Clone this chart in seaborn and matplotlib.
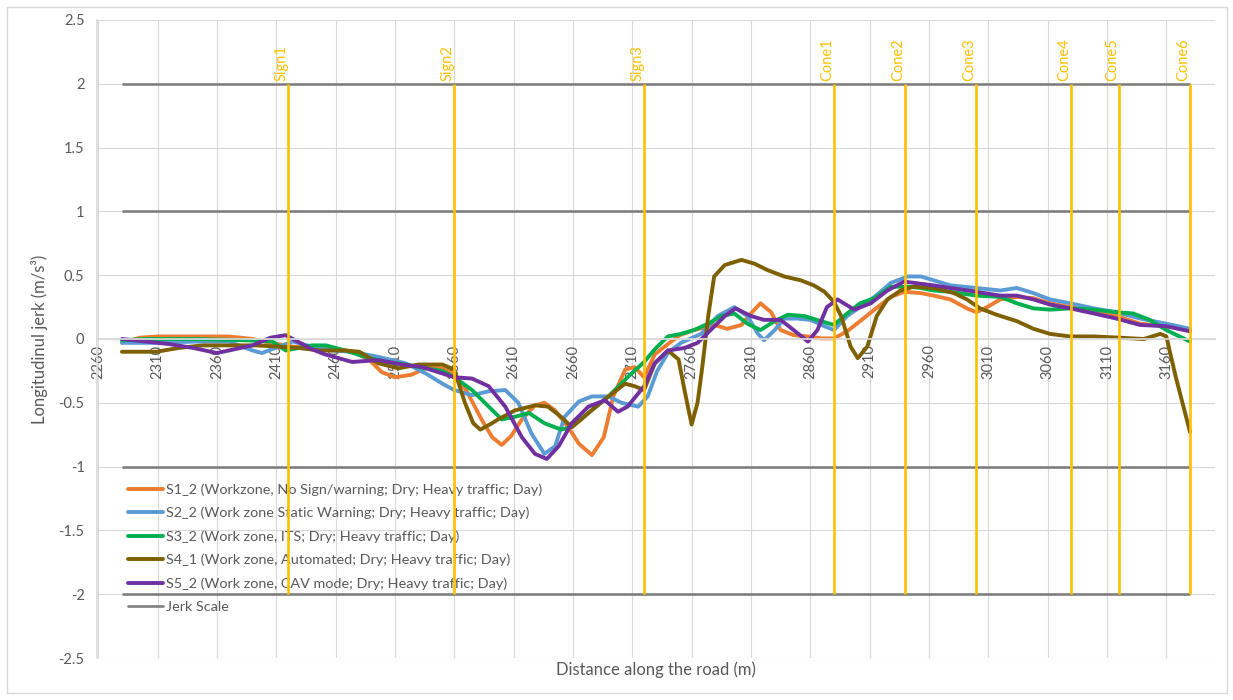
import numpy as np
import pandas as pd
import matplotlib
matplotlib.use("Agg")
import matplotlib.pyplot as plt
import seaborn as sns
from matplotlib.lines import Line2D
from matplotlib.patches import Rectangle

# ---------------- data ----------------
series_names = [
    "S1_2 (Workzone, No Sign/warning; Dry; Heavy traffic; Day)",
    "S2_2 (Work zone Static Warning; Dry; Heavy traffic; Day)",
    "S3_2 (Work zone, ITS; Dry; Heavy traffic; Day)",
    "S4_1 (Work zone, Automated; Dry; Heavy traffic; Day)",
    "S5_2 (Work zone, CAV mode; Dry; Heavy traffic; Day)",
]
series_colors = ["#ED7D31", "#5B9BD5", "#00B050", "#7F6000", "#7030A0"]

s1_x = [2280, 2295, 2310, 2340, 2370, 2390, 2405, 2424, 2440, 2463, 2474, 2488, 2499, 2510, 2524, 2538,
        2550, 2560, 2570, 2583, 2592, 2600, 2608, 2617, 2628, 2636, 2645, 2656, 2665, 2676, 2686, 2694,
        2704, 2712, 2720, 2729, 2740, 2750, 2762, 2779, 2790, 2802, 2810, 2818, 2827, 2835, 2846, 2858,
        2869, 2880, 2891, 2902, 2914, 2928, 2939, 2953, 2964, 2978, 2992, 3000, 3009, 3020, 3034, 3048,
        3062, 3079, 3099, 3118, 3138, 3160, 3180]
s1_y = [-0.03, 0.01, 0.02, 0.02, 0.02, 0.0, -0.03, -0.06, -0.07, -0.08, -0.1, -0.16, -0.26, -0.3, -0.28, -0.22,
        -0.23, -0.28, -0.4, -0.63, -0.77, -0.83, -0.76, -0.63, -0.52, -0.5, -0.56, -0.69, -0.82, -0.91, -0.77, -0.45,
        -0.24, -0.22, -0.3, -0.12, -0.04, 0.03, 0.07, 0.11, 0.08, 0.11, 0.2, 0.28, 0.21, 0.07, 0.03, 0.02,
        0.005, 0.005, 0.06, 0.14, 0.23, 0.33, 0.37, 0.36, 0.34, 0.31, 0.24, 0.21, 0.25, 0.31, 0.33, 0.32,
        0.28, 0.25, 0.21, 0.18, 0.12, 0.1, 0.07]

s2_x = [2280, 2306, 2342, 2370, 2390, 2398, 2412, 2424, 2440, 2457, 2474, 2496, 2519, 2536, 2550, 2560,
        2575, 2589, 2603, 2614, 2625, 2636, 2645, 2653, 2665, 2676, 2690, 2701, 2715, 2723, 2731, 2740,
        2751, 2768, 2782, 2796, 2807, 2816, 2821, 2830, 2838, 2849, 2860, 2872, 2880, 2891, 2902, 2914,
        2928, 2942, 2953, 2964, 2978, 3000, 3020, 3034, 3048, 3062, 3079, 3099, 3118, 3138, 3160, 3180]
s2_y = [-0.03, -0.03, -0.02, -0.02, -0.09, -0.11, -0.06, -0.02, -0.06, -0.09, -0.1, -0.14, -0.19, -0.27, -0.35, -0.4,
        -0.44, -0.41, -0.4, -0.5, -0.74, -0.9, -0.84, -0.61, -0.49, -0.45, -0.45, -0.5, -0.53, -0.45, -0.25, -0.11,
        -0.03, 0.04, 0.18, 0.25, 0.18, 0.04, -0.01, 0.07, 0.16, 0.16, 0.15, 0.1, 0.07, 0.18, 0.25, 0.33,
        0.44, 0.49, 0.49, 0.46, 0.42, 0.4, 0.38, 0.4, 0.36, 0.31, 0.28, 0.24, 0.21, 0.16, 0.12, 0.08]

s3_x = [2280, 2300, 2342, 2384, 2407, 2418, 2429, 2440, 2452, 2468, 2485, 2502, 2519, 2536, 2550, 2560,
        2575, 2589, 2600, 2611, 2623, 2636, 2650, 2659, 2673, 2690, 2706, 2720, 2729, 2740, 2751, 2762,
        2774, 2785, 2796, 2807, 2818, 2830, 2841, 2855, 2869, 2880, 2891, 2902, 2914, 2928, 2942, 2953,
        2964, 2978, 3000, 3020, 3034, 3048, 3062, 3079, 3099, 3118, 3132, 3146, 3160, 3180]
s3_y = [-0.01, 0.0, 0.0, -0.01, -0.02, -0.09, -0.07, -0.05, -0.05, -0.09, -0.14, -0.18, -0.2, -0.23, -0.25, -0.3,
        -0.4, -0.53, -0.63, -0.61, -0.58, -0.66, -0.71, -0.69, -0.58, -0.45, -0.3, -0.18, -0.08, 0.02, 0.04, 0.07,
        0.12, 0.18, 0.2, 0.12, 0.07, 0.14, 0.19, 0.18, 0.14, 0.11, 0.2, 0.28, 0.32, 0.41, 0.41, 0.4,
        0.38, 0.37, 0.34, 0.33, 0.28, 0.24, 0.23, 0.24, 0.23, 0.21, 0.2, 0.15, 0.07, -0.02]

s4_x = [2280, 2309, 2328, 2348, 2370, 2393, 2412, 2429, 2446, 2468, 2480, 2496, 2513, 2530, 2550, 2560,
        2569, 2576, 2582, 2590, 2597, 2611, 2628, 2639, 2650, 2659, 2667, 2673, 2690, 2704, 2712, 2720,
        2729, 2740, 2749, 2754, 2760, 2765, 2769, 2774, 2779, 2788, 2802, 2813, 2824, 2838, 2852, 2863,
        2872, 2880, 2886, 2894, 2900, 2908, 2916, 2925, 2936, 2947, 2964, 2981, 2992, 3003, 3017, 3034,
        3048, 3062, 3079, 3099, 3121, 3141, 3155, 3160, 3168, 3180]
s4_y = [-0.1, -0.1, -0.07, -0.05, -0.05, -0.05, -0.06, -0.07, -0.09, -0.09, -0.1, -0.19, -0.23, -0.2, -0.2, -0.24,
        -0.5, -0.66, -0.71, -0.67, -0.63, -0.56, -0.52, -0.53, -0.61, -0.69, -0.63, -0.58, -0.45, -0.35, -0.37, -0.4,
        -0.19, -0.09, -0.16, -0.4, -0.67, -0.5, -0.22, 0.18, 0.49, 0.58, 0.62, 0.59, 0.54, 0.49, 0.46, 0.42,
        0.37, 0.29, 0.18, -0.06, -0.15, -0.06, 0.18, 0.31, 0.38, 0.41, 0.4, 0.36, 0.31, 0.24, 0.19, 0.14,
        0.08, 0.04, 0.02, 0.02, 0.01, 0.0, 0.04, 0.02, -0.3, -0.73]

s5_x = [2280, 2300, 2320, 2340, 2360, 2375, 2390, 2405, 2418, 2428, 2440, 2451, 2474, 2496, 2516, 2533,
        2550, 2560, 2575, 2589, 2603, 2617, 2628, 2638, 2648, 2659, 2673, 2687, 2698, 2706, 2720, 2729,
        2740, 2754, 2765, 2776, 2788, 2797, 2810, 2821, 2835, 2846, 2858, 2866, 2874, 2883, 2897, 2911,
        2925, 2939, 2964, 2978, 3000, 3020, 3034, 3048, 3062, 3079, 3099, 3118, 3138, 3160, 3180]
s5_y = [0.0, -0.02, -0.04, -0.07, -0.11, -0.08, -0.05, 0.01, 0.03, -0.02, -0.08, -0.12, -0.18, -0.165, -0.2, -0.22,
        -0.27, -0.3, -0.31, -0.37, -0.53, -0.77, -0.9, -0.94, -0.84, -0.66, -0.53, -0.48, -0.57, -0.53, -0.37, -0.19,
        -0.09, -0.07, -0.03, 0.07, 0.18, 0.24, 0.18, 0.15, 0.15, 0.07, -0.02, 0.07, 0.25, 0.31, 0.23, 0.28,
        0.38, 0.45, 0.42, 0.4, 0.37, 0.34, 0.34, 0.31, 0.27, 0.24, 0.2, 0.16, 0.11, 0.1, 0.06]

marker_names = ["Sign1", "Sign2", "Sign3", "Cone1", "Cone2", "Cone3", "Cone4", "Cone5", "Cone6"]
marker_pos = [2420, 2560, 2720, 2880, 2940, 3000, 3080, 3120, 3180]
marker_low, marker_high = -2, 2

jerk_label = "Jerk Scale"
jerk_levels = [2, 1, -1, -2]
jerk_start, jerk_end = 2280, 3180

x_ticks = [2260, 2310, 2360, 2410, 2460, 2510, 2560, 2610, 2660, 2710, 2760, 2810,
           2860, 2910, 2960, 3010, 3060, 3110, 3160]
y_ticks = [2.5, 2, 1.5, 1, 0.5, 0, -0.5, -1, -1.5, -2, -2.5]
y_tick_labels = ["2.5", "2", "1.5", "1", "0.5", "0", "-0.5", "-1", "-1.5", "-2", "-2.5"]

# ---------------- figure ----------------
sns.set_theme(style="white")
plt.rcParams['font.family'] = ['Lato', 'DejaVu Sans']
TXT = "#595959"
GRID = "#D9D9D9"

fig = plt.figure(figsize=(12.33, 7.0), dpi=100)
ax = fig.add_axes([97 / 1233, 42 / 700, 1118 / 1233, 638 / 700])
ax.set_axisbelow(True)

# spine at y = 0 first (this resets ticks)
for s in ["top", "right"]:
    ax.spines[s].set_visible(False)
ax.spines["left"].set_color(GRID)
ax.spines["bottom"].set_color(GRID)
ax.spines["bottom"].set_position(("data", 0))

frames = []
for name, xs, ys in zip(series_names, [s1_x, s2_x, s3_x, s4_x, s5_x], [s1_y, s2_y, s3_y, s4_y, s5_y]):
    frames.append(pd.DataFrame({"distance": xs, "jerk": ys, "series": name}))
df = pd.concat(frames, ignore_index=True)

# jerk scale lines
ax.hlines(jerk_levels, jerk_start, jerk_end, color="#7F7F7F", lw=1.9, zorder=1.8)

sns.lineplot(data=df, x="distance", y="jerk", hue="series", hue_order=series_names,
             palette=series_colors, estimator=None, sort=True, lw=2.8, ax=ax, legend=False,
             solid_joinstyle="round", solid_capstyle="round", zorder=2)

# sign / cone markers
ax.vlines(marker_pos, marker_low, marker_high, color="#FFC000", lw=1.9, zorder=3)
for name, pos in zip(marker_names, marker_pos):
    ax.annotate(name, (pos, marker_high), xytext=(0, 2), textcoords="offset points",
                rotation=90, ha="right", va="bottom", color="#FFC000", fontsize=10.5)

ax.set_xlim(2259, 3201)
ax.set_ylim(-2.5, 2.5)
ax.set_xticks(x_ticks)
ax.set_xticklabels([str(t) for t in x_ticks])
ax.set_yticks(y_ticks)
ax.set_yticklabels(y_tick_labels)
ax.tick_params(axis="both", length=0, colors=TXT, labelsize=10.5)
ax.tick_params(axis="y", pad=9)
ax.tick_params(axis="x", pad=4, labelrotation=90)
ax.grid(True, color=GRID, lw=0.8)

ax.set_ylabel("Longitudinul jerk (m/s³)", fontsize=12, color=TXT)
ax.yaxis.set_label_coords(-0.044, 0.5)
ax.set_xlabel("Distance along the road (m)", fontsize=12, color=TXT)
ax.xaxis.set_label_coords(0.5, -0.006)

handles = [Line2D([], [], color=c, lw=2.8) for c in series_colors] + [Line2D([], [], color="#7F7F7F", lw=1.9)]
labels = series_names + [jerk_label]
leg = ax.legend(handles, labels, loc="upper left", bbox_to_anchor=(0.0277, 0.274), frameon=False,
                fontsize=10.4, handlelength=2.4, handletextpad=0.2, labelspacing=0.76, borderpad=0,
                borderaxespad=0, labelcolor=TXT)
leg.set_zorder(1)

fig.patches.append(Rectangle((7 / 1233, 7 / 700), 1220 / 1233, 686 / 700, transform=fig.transFigure,
                             fill=False, edgecolor=GRID, lw=1))

fig.savefig("out.png", dpi=100)
